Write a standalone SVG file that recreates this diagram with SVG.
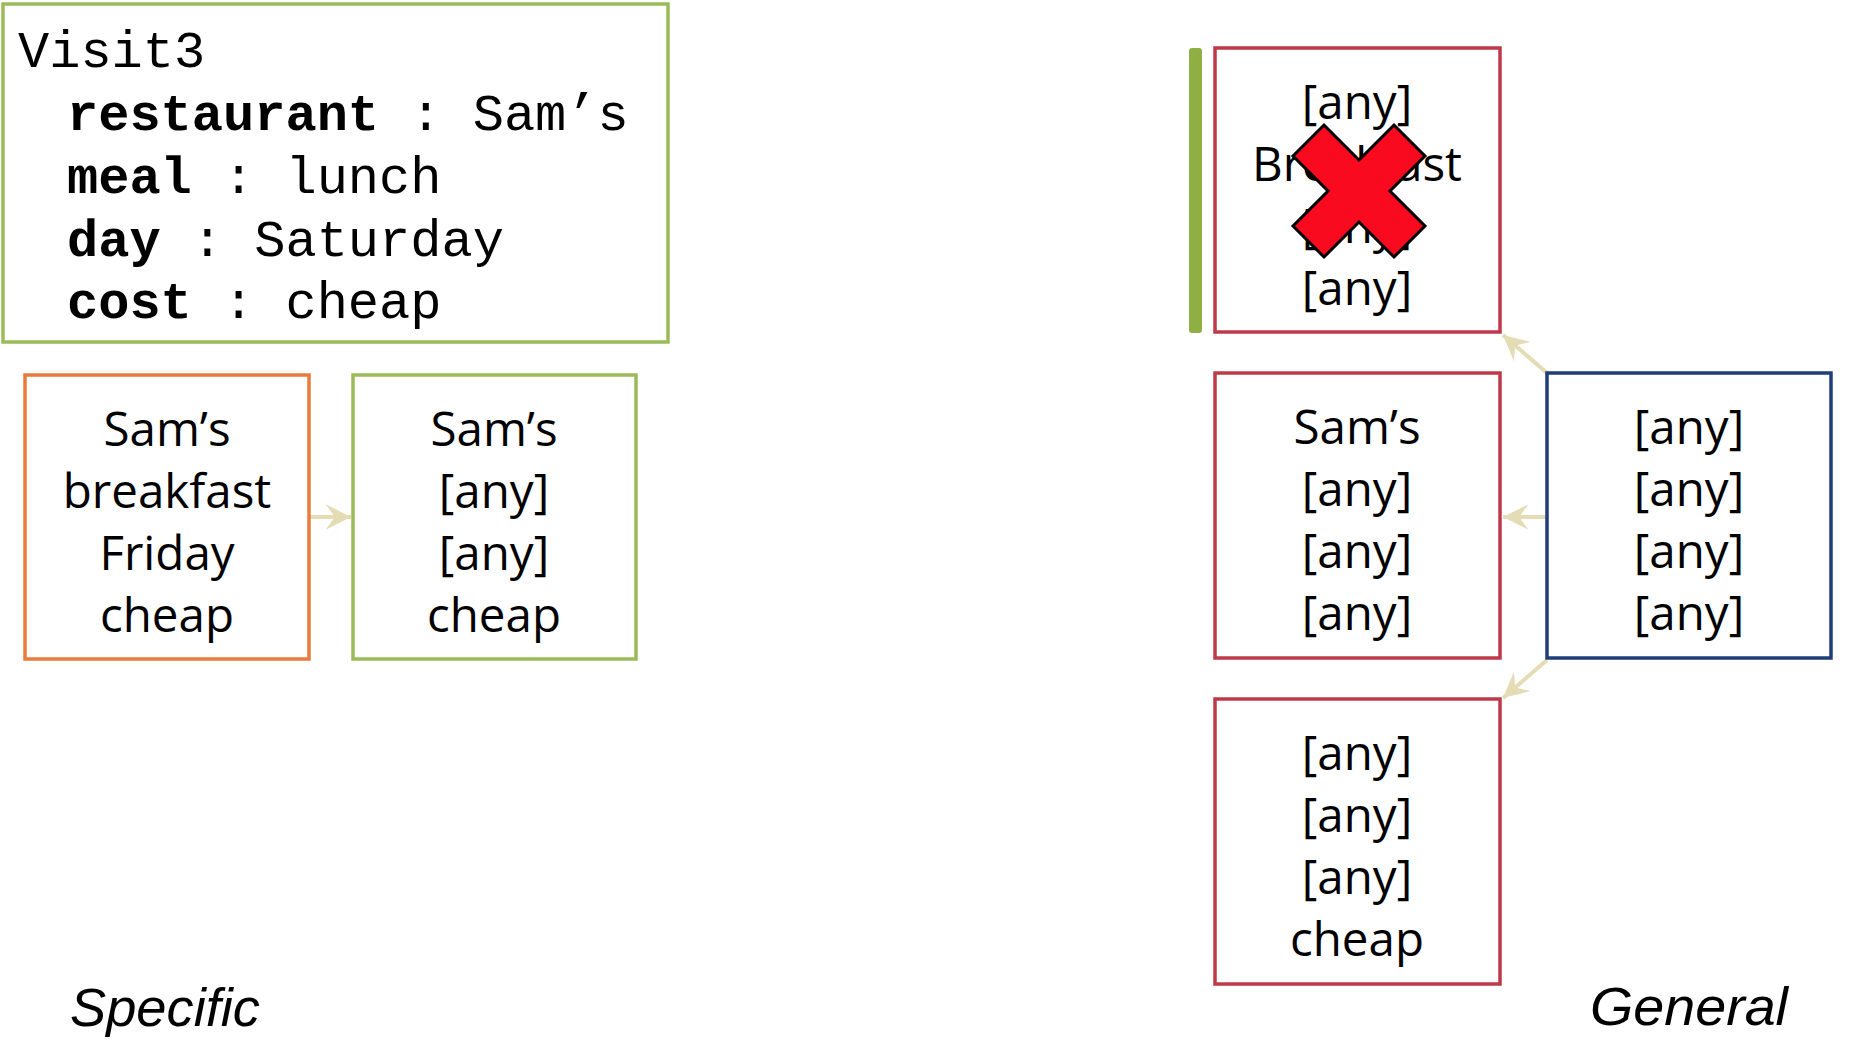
<svg xmlns="http://www.w3.org/2000/svg" width="1856" height="1045" viewBox="0 0 1856 1045">
<defs>
<style>
.box{fill:#ffffff;stroke-width:3.5}
.mono{font-family:"Liberation Mono","Courier New",monospace;font-size:52px;fill:#000}
.b{font-weight:bold}
.lbl{font-family:"Open Sans","Noto Sans",sans-serif;font-size:47.5px;fill:#000;text-anchor:middle}
.hand{font-family:"Liberation Sans",Arial,sans-serif;font-style:italic;font-size:54px;fill:#000}
.conn{stroke:#E3DCB4;stroke-width:4;fill:none}
</style>
<marker id="ah" markerUnits="userSpaceOnUse" markerWidth="30" markerHeight="30" viewBox="-24 -13 26 26" refX="0" refY="0" orient="auto">
<path d="M0,0 L-22,-11 L-14,0 L-22,11 Z" fill="#E3DCB4"/>
</marker>
</defs>
<rect width="1856" height="1045" fill="#ffffff"/>

<g id="visit3">
<rect class="box" x="3" y="4" width="665" height="338" stroke="#9BBB59" stroke-width="4"/>
<text class="mono" x="18" y="67">Visit3</text>
<text class="mono" x="67" y="130"><tspan class="b">restaurant</tspan> : Sam’s</text>
<text class="mono" x="67" y="193"><tspan class="b">meal</tspan> : lunch</text>
<text class="mono" x="67" y="256"><tspan class="b">day</tspan> : Saturday</text>
<text class="mono" x="67" y="318"><tspan class="b">cost</tspan> : cheap</text>
</g>

<g id="connectors">
<line class="conn" x1="310" y1="517" x2="351" y2="517" marker-end="url(#ah)"/>
<line class="conn" x1="1547" y1="373" x2="1503" y2="335" marker-end="url(#ah)"/>
<line class="conn" x1="1547" y1="517" x2="1503" y2="517" marker-end="url(#ah)"/>
<line class="conn" x1="1547" y1="660" x2="1503" y2="698" marker-end="url(#ah)"/>
</g>

<g id="specific1">
<rect class="box" x="25" y="375" width="284" height="284" stroke="#E97C3C"/>
<text class="lbl" x="167" y="446">Sam’s</text>
<text class="lbl" x="167" y="508">breakfast</text>
<text class="lbl" x="167" y="570">Friday</text>
<text class="lbl" x="167" y="632">cheap</text>
</g>

<g id="specific2">
<rect class="box" x="353" y="375" width="283" height="284" stroke="#9BBB59"/>
<text class="lbl" x="494" y="446">Sam’s</text>
<text class="lbl" x="494" y="508">[any]</text>
<text class="lbl" x="494" y="570">[any]</text>
<text class="lbl" x="494" y="632">cheap</text>
</g>

<g id="bar">
<rect x="1189" y="48" width="13" height="285" rx="3" fill="#8FAF45"/>
</g>

<g id="general-top">
<rect class="box" x="1215" y="48" width="285" height="284" stroke="#BE3A4A"/>
<text class="lbl" x="1357" y="119">[any]</text>
<text class="lbl" x="1357" y="181">Breakfast</text>
<text class="lbl" x="1357" y="243">[any]</text>
<text class="lbl" x="1357" y="305">[any]</text>
<polygon id="cross" transform="translate(1359,191)" fill="#FA0A1E" stroke="#000" stroke-width="3" stroke-linejoin="miter"
 points="0,-31 35,-66 66,-35 31,0 66,35 35,66 0,31 -35,66 -66,35 -31,0 -66,-35 -35,-66"/>
</g>

<g id="general-mid">
<rect class="box" x="1215" y="373" width="285" height="285" stroke="#BE3A4A"/>
<text class="lbl" x="1357" y="444">Sam’s</text>
<text class="lbl" x="1357" y="506">[any]</text>
<text class="lbl" x="1357" y="568">[any]</text>
<text class="lbl" x="1357" y="630">[any]</text>
</g>

<g id="general-all">
<rect class="box" x="1547" y="373" width="284" height="285" stroke="#1F3E7A"/>
<text class="lbl" x="1689" y="444">[any]</text>
<text class="lbl" x="1689" y="506">[any]</text>
<text class="lbl" x="1689" y="568">[any]</text>
<text class="lbl" x="1689" y="630">[any]</text>
</g>

<g id="general-bottom">
<rect class="box" x="1215" y="699" width="285" height="285" stroke="#BE3A4A"/>
<text class="lbl" x="1357" y="770">[any]</text>
<text class="lbl" x="1357" y="832">[any]</text>
<text class="lbl" x="1357" y="894">[any]</text>
<text class="lbl" x="1357" y="956">cheap</text>
</g>

<g id="labels">
<text class="hand" x="70" y="1026" textLength="190" lengthAdjust="spacingAndGlyphs">Specific</text>
<text class="hand" x="1590" y="1025" textLength="198" lengthAdjust="spacingAndGlyphs">General</text>
</g>
</svg>
